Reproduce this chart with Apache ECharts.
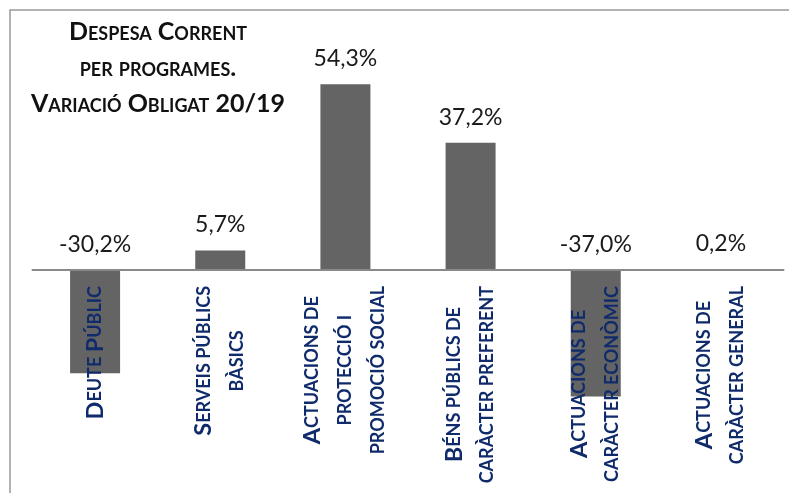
<!DOCTYPE html>
<html>
<head>
<meta charset="utf-8">
<script src="https://cdn.jsdelivr.net/npm/echarts@6/dist/echarts.min.js"></script>
<style>
  html, body { margin: 0; padding: 0; background: #fff; }
  #chart { width: 789px; height: 493px; }
</style>
</head>
<body>
<div id="chart"></div>
<script>
// programes de despesa corrent
var categories = [
    'Deute Públic',
    'Serveis públics\nbàsics',
    'Actuacions de\nprotecció i\npromoció social',
    'Béns públics de\ncaràcter preferent',
    'Actuacions de\ncaràcter econòmic',
    'Actuacions de\ncaràcter general'
]
// variació obligat 20/19 (%)
var variacio = [-30.2, 5.7, 54.3, 37.2, -37.0, 0.2]
var titol = 'Despesa Corrent\nper programes.\nVariació Obligat 20/19'

var yMin = -60, yMax = 70
var gridTop = 30.6, gridBottom = 17.8
// l'eix de categories se situa a l'altura del zero
var plotH = 493 - gridTop - gridBottom
var zeroOffset = -(0 - yMin) / (yMax - yMin) * plotH

// versaletes: majúscules grans, minúscules passades a majúscula petita
function versaletes(line) {
    var out = '', run = '', type = null
    for (var i = 0; i < line.length; i++) {
        var ch = line[i]
        var t = ch === ' ' ? (type || 's') : (ch !== ch.toUpperCase() ? 's' : 'B')
        if (type !== null && t !== type) {
            out += '{' + type + '|' + run + '}'
            run = ''
        }
        type = t
        run += ch.toUpperCase()
    }
    if (run) out += '{' + type + '|' + run + '}'
    return out
}

var labelFont = {
    fontFamily: 'Lato',
    fontWeight: 'bold',
    lineHeight: 33,
    color: '#0f2b6b',
    align: 'center'
}

var myChart = echarts.init(document.getElementById('chart'))
var option = {
    animation: false,
    backgroundColor: '#fff',
    title: {
        text: titol,
        left: 158,
        top: 14,
        padding: 0,
        textAlign: 'center',
        textStyle: {
            fontFamily: 'Lato',
            fontStyle: 'small-caps',
            fontWeight: 'bold',
            fontSize: 25,
            lineHeight: 36,
            color: '#111'
        }
    },
    graphic: [{
        // marc del gràfic
        type: 'rect',
        silent: true,
        shape: { x: 10, y: 10, width: 900, height: 600 },
        style: { fill: 'none', stroke: '#999', lineWidth: 1.5 }
    }],
    grid: {
        left: 32.5,
        right: 5.5,
        top: gridTop,
        bottom: gridBottom,
        containLabel: false,
        outerBoundsMode: 'none'
    },
    xAxis: {
        type: 'category',
        data: categories,
        position: 'bottom',
        offset: zeroOffset,
        z: 5,
        axisLine: {
            onZero: false,
            lineStyle: { color: '#8a8a8a', width: 2 }
        },
        axisTick: { show: false },
        axisLabel: {
            interval: 0,
            rotate: 90,
            margin: 16,
            hideOverlap: false,
            formatter: function(val) {
                return val.split('\n').map(versaletes).join('\n')
            },
            rich: {
                B: Object.assign({ fontSize: 23.5 }, labelFont),
                s: Object.assign({ fontSize: 18 }, labelFont)
            }
        }
    },
    yAxis: {
        type: 'value',
        min: yMin,
        max: yMax,
        show: false,
        splitLine: { show: false }
    },
    series: [{
        type: 'bar',
        data: variacio,
        barWidth: 50,
        itemStyle: { color: '#646464' },
        label: {
            show: true,
            position: 'top',
            distance: 14,
            fontFamily: 'Lato',
            fontSize: 23,
            color: '#1a1a1a',
            formatter: function(p) {
                return p.value.toFixed(1).replace('.', ',') + '%'
            }
        }
    }]
}
myChart.setOption(option)
</script>
</body>
</html>
